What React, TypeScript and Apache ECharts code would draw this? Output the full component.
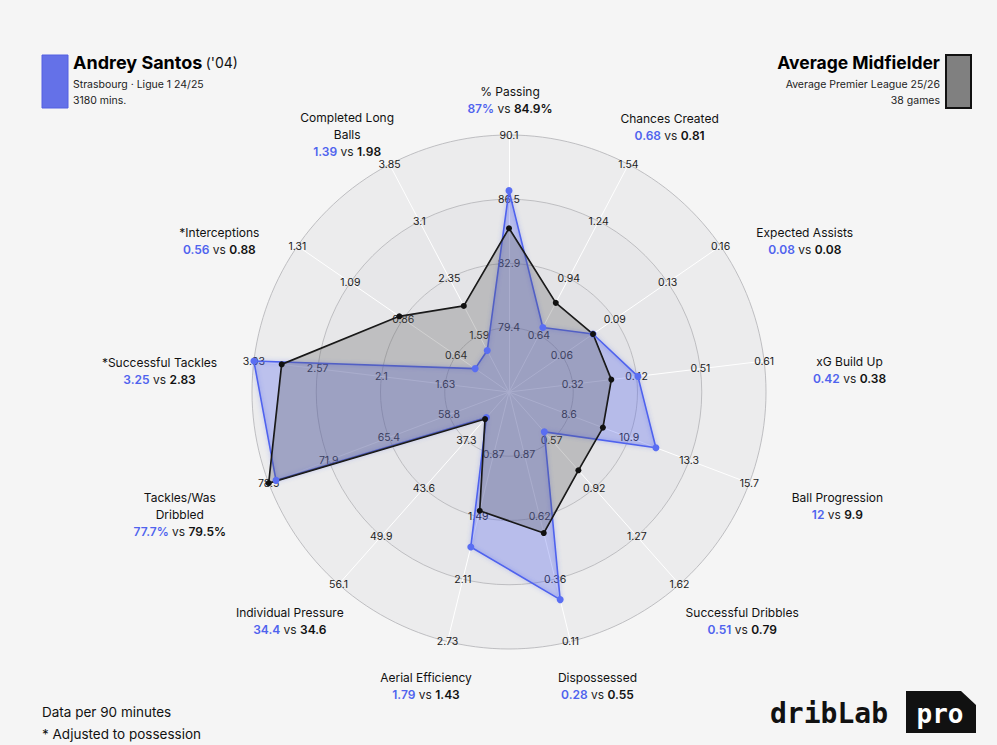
import { useEffect, useRef } from 'react';
import * as echarts from 'echarts';

// Metrics, listed clockwise from the top of the radar
const metricNames = [
  '% Passing',
  'Chances Created',
  'Expected Assists',
  'xG Build Up',
  'Ball Progression',
  'Successful Dribbles',
  'Dispossessed',
  'Aerial Efficiency',
  'Individual Pressure',
  'Tackles/Was\nDribbled',
  '*Successful Tackles',
  '*Interceptions',
  'Completed Long\nBalls',
];
const playerValues = [87, 0.68, 0.08, 0.42, 12, 0.51, 0.28, 1.79, 34.4, 77.7, 3.25, 0.56, 1.39];
const averageValues = [84.9, 0.81, 0.08, 0.38, 9.9, 0.79, 0.55, 1.43, 34.6, 79.5, 2.83, 0.88, 1.98];
const valueSuffix = ['%', '', '', '', '', '', '', '', '', '%', '', '', ''];

// Scale value at the centre and at the outer ring (Dispossessed runs backwards)
const centreValues = [75.78, 0.34, 0.026, 0.226, 6.18, 0.22, 1.122, 0.25, 31.08, 52.22, 1.162, 0.417, 0.842];
const outerValues = [90.1, 1.54, 0.162, 0.61, 15.7, 1.62, 0.11, 2.73, 56.12, 78.5, 3.034, 1.31, 3.85];
const tickDecimals = [1, 2, 2, 2, 1, 2, 2, 2, 1, 1, 2, 2, 2];

// Name placement around the rim
const nameGaps = [35, 52, 72, 84, 91, 69, 50, 48, 60, 94, 92, 67, 46];
const nameShift: [number, number][] = [
  [1, 0], [17, 9], [25, 36], [2, 19], [3, -9], [17, -15], [15, -4],
  [-10, -2], [-9, -8], [-1, -2], [-3, 21], [-23, 33], [-21, 11],
];

const PLAYER_BLUE = '#4f63ee';
const FONT = 'Inter, "Noto Sans", sans-serif';

const isInverted = (i: number) => centreValues[i] > outerValues[i];
const toAxis = (i: number, v: number) => (isInverted(i) ? -v : v);
// values past the scale are pinned to the outer ring (or the centre)
const plotValue = (i: number, v: number) => {
  const a = toAxis(i, v);
  const lo = toAxis(i, centreValues[i]);
  const hi = toAxis(i, outerValues[i]);
  return Math.min(hi, Math.max(lo, a));
};
const formatTick = (v: number, d: number) => String(parseFloat(v.toFixed(d)));
const shiftPadding = ([dx, dy]: [number, number]) => [
  Math.max(0, 2 * dy),
  Math.max(0, -2 * dx),
  Math.max(0, -2 * dy),
  Math.max(0, 2 * dx),
];

// ECharts lays radar indicators out counter-clockwise, so feed them in reverse
const order = [0, ...Array.from({ length: metricNames.length - 1 }, (_, k) => metricNames.length - 1 - k)];

function buildOption(): echarts.EChartsOption {
  const indicator = order.map((i) => ({
    name: metricNames[i],
    min: toAxis(i, centreValues[i]),
    max: toAxis(i, outerValues[i]),
    nameGap: nameGaps[i],
    nameTextStyle: { padding: shiftPadding(nameShift[i]) },
    axisLabel: {
      formatter: (v: number, idx: number) => (idx === 0 ? '' : formatTick(Math.abs(v), tickDecimals[i])),
    },
  }));

  const nameFormatter = (name: string) => {
    const i = metricNames.indexOf(name);
    const lines = name.split('\n').map((l) => `{n|${l}}`).join('\n');
    const s = valueSuffix[i];
    return `${lines}\n{p|${playerValues[i]}${s}}{v| vs }{a|${averageValues[i]}${s}}`;
  };

  const seriesData = (vals: number[]) => order.map((i) => plotValue(i, vals[i]));

  return {
    animation: false,
    backgroundColor: '#f5f5f5',
    radar: {
      center: [509, 392],
      radius: 257,
      startAngle: 90,
      splitNumber: 4,
      shape: 'circle',
      indicator: indicator as any,
      axisName: {
        align: 'center',
        verticalAlign: 'middle',
        formatter: nameFormatter as any,
        rich: {
          n: { fontFamily: FONT, fontSize: 12, color: '#111', lineHeight: 17 },
          p: { fontFamily: FONT, fontSize: 12, color: PLAYER_BLUE, fontWeight: 600, lineHeight: 17 },
          v: { fontFamily: FONT, fontSize: 12, color: '#222', lineHeight: 17 },
          a: { fontFamily: FONT, fontSize: 12, color: '#111', fontWeight: 600, lineHeight: 17 },
        },
      } as any,
      axisLabel: {
        show: true,
        margin: 0,
        align: 'center',
        verticalAlign: 'middle',
        fontFamily: FONT,
        fontSize: 10.5,
        color: '#1c1c1c',
        showMinLabel: false,
      } as any,
      axisTick: { show: false },
      axisLine: { lineStyle: { color: '#ffffff', width: 1 } },
      splitLine: { lineStyle: { color: '#b1b1b5', width: 0.8 } },
      splitArea: {
        areaStyle: { color: ['#e3e3e6', '#e4e4e7', '#e7e7e9', '#ececed'] },
      },
    },
    series: [
      {
        type: 'radar',
        symbol: 'circle',
        data: [
          {
            name: 'Andrey Santos',
            value: seriesData(playerValues),
            symbolSize: 7,
            itemStyle: { color: '#5a6ef2' },
            lineStyle: { color: PLAYER_BLUE, width: 1.6, shadowBlur: 4, shadowColor: 'rgba(80,100,240,0.5)' },
            areaStyle: { color: 'rgba(82,100,240,0.45)' },
          },
          {
            name: 'Average Midfielder',
            value: seriesData(averageValues),
            symbolSize: 6,
            itemStyle: { color: '#111' },
            lineStyle: { color: '#111', width: 1.7 },
            areaStyle: { color: 'rgba(90,90,90,0.4)' },
          },
        ],
      },
    ],
    graphic: [
      // player block, top left
      {
        type: 'rect',
        shape: { x: 42, y: 55, width: 26, height: 53 },
        style: { fill: '#6471e8', stroke: '#5260e2', lineWidth: 1 },
      },
      {
        type: 'text',
        x: 73,
        y: 62,
        style: {
          text: "{b|Andrey Santos} {s|('04)}",
          verticalAlign: 'middle',
          rich: {
            b: { fontFamily: FONT, fontSize: 18, fontWeight: 700, fill: '#000' },
            s: { fontFamily: FONT, fontSize: 14, fill: '#111' },
          },
        } as any,
      },
      {
        type: 'text',
        x: 73,
        y: 84,
        style: { text: 'Strasbourg · Ligue 1 24/25', fontFamily: FONT, fontSize: 10.5, fill: '#222', verticalAlign: 'middle' },
      },
      {
        type: 'text',
        x: 73,
        y: 100,
        style: { text: '3180 mins.', fontFamily: FONT, fontSize: 10.5, fill: '#222', verticalAlign: 'middle' },
      },
      // comparison block, top right
      {
        type: 'rect',
        shape: { x: 946, y: 55, width: 25, height: 53 },
        style: { fill: '#808080', stroke: '#111', lineWidth: 2 },
      },
      {
        type: 'text',
        x: 940,
        y: 62,
        style: {
          text: 'Average Midfielder',
          fontFamily: FONT,
          fontSize: 17.5,
          fontWeight: 700,
          fill: '#000',
          align: 'right',
          verticalAlign: 'middle',
        },
      },
      {
        type: 'text',
        x: 940,
        y: 84,
        style: { text: 'Average Premier League 25/26', fontFamily: FONT, fontSize: 10.5, fill: '#222', align: 'right', verticalAlign: 'middle' },
      },
      {
        type: 'text',
        x: 940,
        y: 100,
        style: { text: '38 games', fontFamily: FONT, fontSize: 10.5, fill: '#222', align: 'right', verticalAlign: 'middle' },
      },
      // footnotes
      {
        type: 'text',
        x: 42,
        y: 712,
        style: { text: 'Data per 90 minutes', fontFamily: FONT, fontSize: 13.5, fill: '#111', verticalAlign: 'middle' },
      },
      {
        type: 'text',
        x: 42,
        y: 734,
        style: { text: '* Adjusted to possession', fontFamily: FONT, fontSize: 13.5, fill: '#111', verticalAlign: 'middle' },
      },
      // brand mark
      {
        type: 'text',
        x: 770,
        y: 713,
        style: {
          text: 'dribLab',
          fontFamily: '"DejaVu Sans Mono", monospace',
          fontSize: 28,
          fontWeight: 700,
          fill: '#111',
          verticalAlign: 'middle',
        },
      },
      {
        type: 'polygon',
        shape: { points: [[906, 691], [961, 691], [976, 705], [976, 733], [906, 733]] },
        style: { fill: '#111' },
      },
      {
        type: 'text',
        x: 940,
        y: 714,
        style: {
          text: 'pro',
          fontFamily: '"DejaVu Sans Mono", monospace',
          fontSize: 26,
          fontWeight: 700,
          fill: '#fff',
          align: 'center',
          verticalAlign: 'middle',
        },
      },
    ] as any,
  };
}

export default function App() {
  const ref = useRef<HTMLDivElement>(null);

  useEffect(() => {
    if (!ref.current) return;
    const chart = echarts.init(ref.current, undefined, { renderer: 'svg' });
    chart.setOption(buildOption());
    return () => chart.dispose();
  }, []);

  return (
    <div
      ref={ref}
      style={{ position: 'fixed', left: 0, top: 0, width: 997, height: 745, background: '#f5f5f5' }}
    />
  );
}
